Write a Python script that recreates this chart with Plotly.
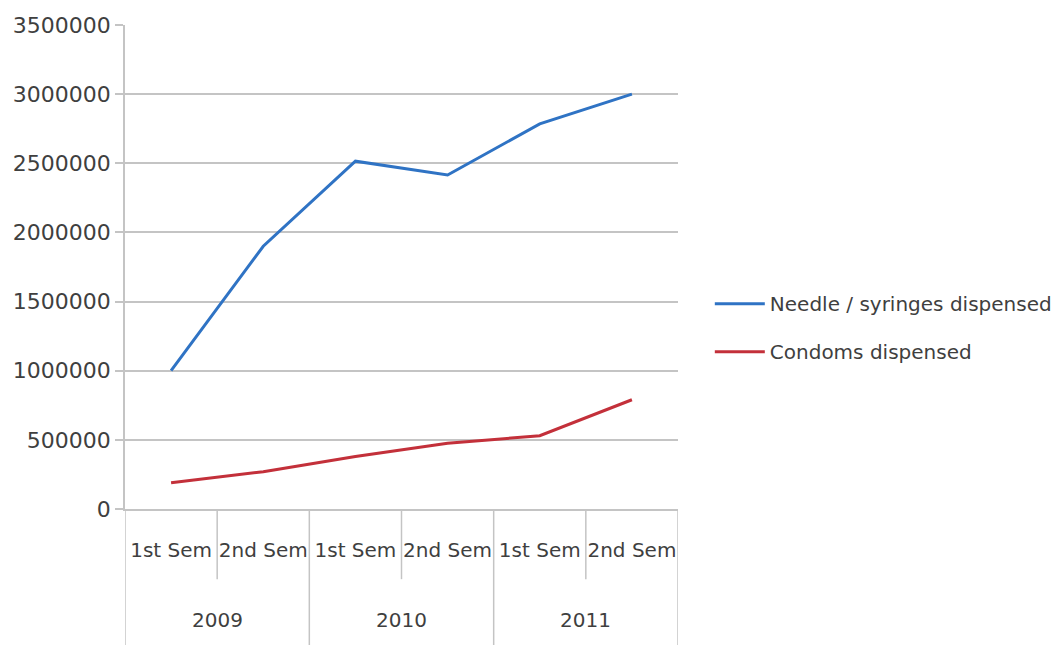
import plotly.graph_objects as go

years = ["2009", "2009", "2010", "2010", "2011", "2011"]
semesters = ["1st Sem", "2nd Sem", "1st Sem", "2nd Sem", "1st Sem", "2nd Sem"]
needles = [1000000, 1900000, 2515000, 2415000, 2785000, 3000000]
condoms = [190000, 270000, 380000, 475000, 530000, 790000]

y_ticks = [0, 500000, 1000000, 1500000, 2000000, 2500000, 3000000, 3500000]

# one category per half-year, labelled by its semester on the axis
periods = [f"{y} {s}" for y, s in zip(years, semesters)]
year_labels = ["2009", "2010", "2011"]

text_color = "#3f3f3f"
grid_color = "#c4c4c4"
font_family = "DejaVu Sans"

fig = go.Figure()
fig.add_trace(go.Scatter(
    x=periods, y=needles, mode="lines",
    name="Needle / syringes dispensed",
    line=dict(color="#2f73c4", width=3),
    legendgroup="a",
))
fig.add_trace(go.Scatter(
    x=periods, y=condoms, mode="lines",
    name="Condoms dispensed",
    line=dict(color="#c3303a", width=3),
    legendgroup="b",
))

# table-like divider lines below the category axis
n = len(periods)
for i in range(n + 1):
    boundary = i - 0.5
    is_year_edge = i == 0 or i == n or years[i - 1] != years[i]
    fig.add_shape(
        type="line", xref="x", yref="paper",
        x0=boundary, x1=boundary,
        y0=0, y1=-0.283 if is_year_edge else -0.145,
        line=dict(color=grid_color, width=1.5),
        layer="below",
    )

# year labels centred under each pair of semesters
for k, yr in enumerate(year_labels):
    idx = [i for i, y in enumerate(years) if y == yr]
    fig.add_annotation(
        x=sum(idx) / len(idx), y=-0.229, xref="x", yref="paper",
        text=yr, showarrow=False, yanchor="middle",
        font=dict(family=font_family, size=20, color=text_color),
    )

fig.update_layout(
    width=1061, height=645,
    margin=dict(l=125, r=383, t=25, b=136, autoexpand=False),
    paper_bgcolor="white", plot_bgcolor="white",
    font=dict(family=font_family, size=20, color=text_color),
    legend=dict(
        xref="container", yref="container",
        x=0.669, y=0.492, xanchor="left", yanchor="middle",
        tracegroupgap=19, itemwidth=50,
        font=dict(family=font_family, size=20, color=text_color),
        bgcolor="rgba(0,0,0,0)",
    ),
    showlegend=True,
)

fig.update_yaxes(
    range=[0, 3500000],
    tickvals=y_ticks,
    ticktext=[str(v) for v in y_ticks],
    showgrid=True, gridcolor=grid_color, gridwidth=1.5,
    showline=True, linecolor=grid_color, linewidth=1.5,
    ticks="outside", ticklen=8, tickcolor=grid_color, tickwidth=1.5,
    zeroline=False,
    tickfont=dict(family=font_family, size=22, color=text_color),
)

fig.update_xaxes(
    type="category",
    range=[-0.5, n - 0.5],
    tickvals=periods, ticktext=semesters,
    showline=True, linecolor=grid_color, linewidth=1.5,
    ticks="", showgrid=False,
    ticklabelstandoff=22,
    tickfont=dict(family=font_family, size=20, color=text_color),
)

fig.write_html("out.html")
